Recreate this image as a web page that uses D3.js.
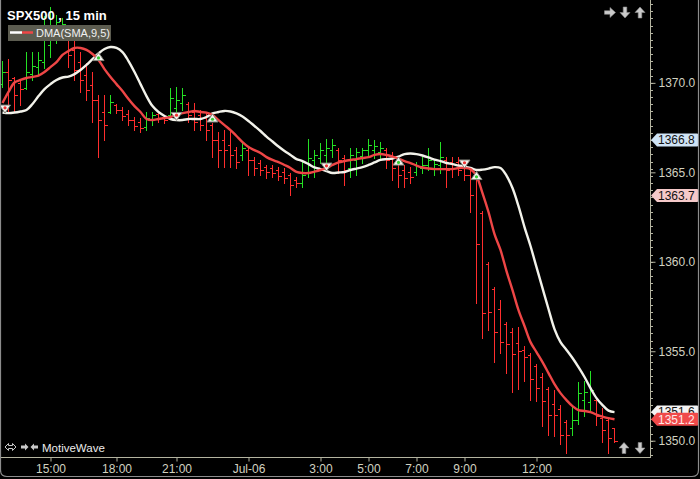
<!DOCTYPE html>
<html><head><meta charset="utf-8">
<script src="https://cdn.jsdelivr.net/npm/d3@7"></script>
<style>html,body{margin:0;padding:0;background:#000;overflow:hidden}svg{display:block}</style>
</head><body><svg id="c" width="700" height="479"></svg>
<script>
// ---------- DATA ----------
const opens = [1369.93,1370.61,1370.27,1369.99,1369.71,1370.49,1370.88,1371.16,1372.11,1372.84,
1372.67,1372.95,1371.83,1371.16,1370.44,1369.88,1369.04,1368.37,1368.37,1368.76,
1368.48,1368.26,1367.92,1367.81,1367.53,1367.92,1368.26,1368.09,1368.20,1368.59,
1368.87,1368.82,1368.37,1368.20,1368.03,1367.64,1366.80,1366.80,1366.52,1366.24,
1365.97,1366.24,1365.69,1365.52,1365.29,1365.24,1365.13,1365.02,1364.85,1364.57,
1364.40,1365.02,1365.69,1365.80,1365.97,1366.24,1366.24,1365.80,1365.24,1365.69,
1365.91,1366.24,1366.24,1366.13,1366.24,1365.80,1365.57,1365.13,1365.02,1365.02,
1365.24,1365.41,1365.24,1365.41,1365.69,1365.57,1365.57,1365.24,1364.85,1364.68,
1362.72,1359.87,1358.47,1357.36,1356.52,1356.07,1355.46,1355.06,1354.79,1354.17,
1353.56,1352.88,1352.05,1351.77,1351.04,1350.70,1351.15,1352.27,1352.16,1352.27,
1351.26,1351.15,1350.70];
const highs = [1371.22,1371.33,1370.33,1370.21,1371.72,1371.72,1371.72,1373.74,1374.24,1373.79,
1373.62,1373.18,1372.51,1371.72,1371.11,1370.61,1369.32,1369.32,1369.32,1368.82,
1368.65,1368.48,1368.09,1368.03,1368.37,1368.37,1368.37,1368.20,1369.71,1369.77,
1369.71,1368.93,1368.87,1368.48,1368.31,1367.75,1367.25,1367.36,1367.36,1366.41,
1366.64,1366.41,1365.85,1365.69,1365.41,1365.41,1365.29,1365.24,1364.96,1364.74,
1365.57,1366.86,1366.24,1366.64,1366.86,1366.86,1366.36,1365.97,1366.36,1366.36,
1366.36,1366.86,1366.80,1366.69,1366.36,1366.13,1365.85,1365.41,1365.29,1365.57,
1365.85,1366.36,1365.69,1366.69,1365.85,1365.85,1365.85,1365.41,1365.13,1364.96,
1362.84,1359.98,1358.59,1357.86,1356.63,1356.29,1356.35,1355.29,1354.90,1354.28,
1353.78,1353.00,1352.83,1351.99,1351.15,1351.88,1353.28,1353.33,1353.89,1352.33,
1351.82,1351.21,1350.70];
const lows = [1369.77,1368.37,1368.37,1368.76,1369.65,1370.16,1370.44,1370.83,1371.44,1372.23,
1372.39,1370.88,1370.16,1369.49,1369.04,1367.81,1365.85,1366.80,1368.31,1368.31,
1367.92,1367.64,1367.36,1367.25,1367.36,1367.64,1367.81,1367.75,1368.03,1368.09,
1368.48,1367.81,1367.36,1367.36,1366.80,1365.85,1365.29,1365.29,1365.29,1365.24,
1365.69,1364.85,1364.85,1364.85,1364.68,1364.74,1364.57,1364.40,1363.73,1364.18,
1364.18,1364.74,1364.74,1365.52,1365.41,1365.85,1364.96,1364.29,1364.74,1364.85,
1365.52,1365.97,1365.80,1365.69,1365.24,1364.57,1364.18,1364.18,1364.40,1364.85,
1364.96,1365.13,1364.85,1364.96,1364.18,1364.74,1364.85,1364.57,1362.78,1357.69,
1355.74,1356.18,1354.39,1354.90,1353.78,1352.72,1352.88,1353.33,1352.27,1352.21,
1350.82,1350.31,1350.26,1349.81,1349.31,1350.31,1350.93,1351.38,1351.66,1350.87,
1349.92,1349.31,1349.92];
const closes = [1370.61,1370.16,1369.32,1369.65,1370.61,1370.94,1371.28,1372.95,1373.23,1373.40,
1373.29,1371.56,1370.72,1370.16,1369.60,1369.04,1367.92,1367.64,1368.93,1368.48,
1368.15,1367.92,1367.59,1367.47,1368.03,1368.20,1368.03,1367.92,1369.15,1369.04,
1369.32,1368.20,1367.81,1367.64,1367.36,1366.80,1366.24,1366.24,1365.97,1365.57,
1366.36,1365.69,1365.24,1365.13,1365.02,1364.96,1364.79,1364.68,1364.29,1364.40,
1364.85,1365.80,1365.97,1366.24,1366.36,1366.52,1365.69,1365.13,1365.97,1366.13,
1366.24,1366.52,1366.47,1366.36,1365.69,1365.24,1364.85,1364.68,1364.74,1365.35,
1365.41,1365.69,1365.46,1365.85,1365.13,1365.24,1365.13,1364.85,1363.73,1360.99,
1357.13,1357.19,1356.07,1355.51,1355.40,1354.84,1355.01,1354.67,1353.44,1352.94,
1352.21,1351.43,1351.43,1350.31,1350.31,1351.15,1352.66,1352.72,1352.83,1351.38,
1350.59,1350.15,1349.98];
// red line of DMA(SMA,9,5)
const smaValues = [1368.87,1369.49,1370.02,1370.16,1370.27,1370.33,1370.41,1370.61,1370.88,1371.16,
1371.56,1371.78,1371.95,1371.95,1371.84,1371.61,1371.28,1370.77,1370.33,1369.93,
1369.54,1369.10,1368.70,1368.37,1367.98,1367.92,1367.98,1368.03,1368.09,1368.20,
1368.31,1368.37,1368.43,1368.37,1368.34,1368.20,1367.92,1367.64,1367.36,1367.03,
1366.69,1366.41,1366.24,1366.08,1365.85,1365.69,1365.57,1365.41,1365.24,1365.02,
1364.96,1364.96,1365.04,1365.13,1365.24,1365.41,1365.55,1365.63,1365.69,1365.74,
1365.80,1365.85,1365.97,1366.02,1365.97,1365.88,1365.77,1365.63,1365.52,1365.38,
1365.27,1365.21,1365.18,1365.18,1365.18,1365.18,1365.24,1365.24,1365.18,1364.79,
1363.84,1362.78,1361.55,1360.66,1359.48,1358.42,1357.30,1356.41,1355.51,1354.95,
1354.39,1353.78,1353.16,1352.66,1352.27,1351.93,1351.71,1351.66,1351.60,1351.46,
1351.35,1351.26,1351.20];
// white line of DMA(SMA,9,5)
const dmaValues = [1368.34,1368.31,1368.34,1368.40,1368.48,1368.82,1369.26,1369.65,1369.93,1370.16,
1370.30,1370.35,1370.49,1370.72,1371.00,1371.33,1371.64,1371.89,1372.00,1371.95,
1371.72,1371.22,1370.61,1369.93,1369.26,1368.70,1368.37,1368.15,1367.98,1367.92,
1367.92,1367.98,1367.98,1367.98,1368.09,1368.29,1368.37,1368.43,1368.40,1368.29,
1368.12,1367.87,1367.59,1367.31,1367.00,1366.72,1366.44,1366.19,1365.97,1365.74,
1365.63,1365.46,1365.27,1365.18,1365.07,1364.96,1364.99,1365.02,1365.13,1365.21,
1365.29,1365.41,1365.55,1365.69,1365.74,1365.77,1365.88,1366.02,1366.05,1366.02,
1365.94,1365.83,1365.71,1365.63,1365.52,1365.46,1365.38,1365.32,1365.24,1365.13,
1365.15,1365.21,1365.29,1365.24,1364.82,1364.12,1363.11,1361.94,1360.88,1359.70,
1358.53,1357.36,1356.24,1355.51,1355.07,1354.62,1354.11,1353.56,1352.94,1352.38,
1351.99,1351.68,1351.60];
const signalBars   = [0, 16, 29, 35, 54, 66, 77, 79];
const signalDirs   = ["down","up","down","up","down","up","down","up"];
const signalPrices = [1368.56,1371.44,1368.15,1368.01,1365.32,1365.60,1365.49,1364.79];
const timeTickBars   = [8, 19, 29, 41, 53, 61, 69, 77, 89];
const timeTickLabels = ["15:00","18:00","21:00","Jul-06","3:00","5:00","7:00","9:00","12:00"];
const priceTicks = [1350, 1355, 1360, 1365, 1370];
const markerValues = [1366.8, 1363.7, 1351.6, 1351.2];
const titleText = "SPX500 , 15 min";
const legendText = "DMA(SMA,9,5)";

// ---------- DRAWING ----------
const svg = d3.select("#c");
const FONT = "'Liberation Sans', Arial, sans-serif";
const x = d3.scaleLinear().domain([0, 102]).range([2.5, 614.5]);
const y = d3.scaleLinear().domain([1350, 1370]).range([440.7, 82.85]);
const snap = v => Math.round(v) + 0.5;

svg.append("rect").attr("width",700).attr("height",479).attr("fill","#000");

const plot = svg.append("g").attr("clip-path","url(#clipP)");
svg.append("clipPath").attr("id","clipP").append("rect").attr("x",1).attr("y",0).attr("width",649).attr("height",457);

// OHLC bars
const bars = plot.append("g").attr("shape-rendering","crispEdges");
d3.range(opens.length).forEach(i => {
  const col = closes[i] >= opens[i] ? "#24e024" : "#ff2d2d";
  const xi = x(i);
  const g = bars.append("g").attr("stroke", col).attr("stroke-width",1);
  g.append("line").attr("x1",xi).attr("x2",xi).attr("y1",Math.round(y(highs[i]))).attr("y2",Math.round(y(lows[i]))+1);
  g.append("line").attr("x1",xi-3).attr("x2",xi).attr("y1",snap(y(opens[i]))).attr("y2",snap(y(opens[i])));
  g.append("line").attr("x1",xi).attr("x2",xi+3.5).attr("y1",snap(y(closes[i]))).attr("y2",snap(y(closes[i])));
});

// moving average lines
const line = d3.line().x((d,i)=>x(i)).y(d=>y(d)).curve(d3.curveCatmullRom.alpha(0.5));
plot.append("path").datum(dmaValues).attr("d",line).attr("fill","none").attr("stroke","#f2f2ea").attr("stroke-width",2.4);
plot.append("path").datum(smaValues).attr("d",line).attr("fill","none").attr("stroke","#ee4646").attr("stroke-width",2.4);

// signal triangles
signalBars.forEach((b,k) => {
  const cx = Math.max(x(b), 5), cy = y(signalPrices[k]);
  const up = signalDirs[k] === "up";
  const p = up ? `M${cx},${cy-4.5}L${cx+5.5},${cy+3.5}L${cx-5.5},${cy+3.5}Z`
               : `M${cx},${cy+4.5}L${cx+5.5},${cy-3.5}L${cx-5.5},${cy-3.5}Z`;
  plot.append("path").attr("d",p).attr("fill","#f4f4f0").attr("stroke","#8a8a80").attr("stroke-width",1);
  plot.append("circle").attr("cx",cx).attr("cy",up?cy+0.8:cy-0.8).attr("r",1.6).attr("fill", up ? "#33cc33" : "#ee3333");
});

// price axis
const axisCol = "#b4b4a0", textCol = "#d2d2c0";
const ay = svg.append("g").attr("shape-rendering","crispEdges");
ay.append("line").attr("x1",650.5).attr("x2",650.5).attr("y1",0).attr("y2",457).attr("stroke",axisCol);
d3.range(1348.8, 1375, 0.4).forEach(v => {
  const yy = snap(y(v));
  if (yy > 0 && yy < 457) ay.append("line").attr("x1",650).attr("x2",653).attr("y1",yy).attr("y2",yy).attr("stroke",axisCol);
});
const yAxis = d3.axisRight(y).tickValues(priceTicks).tickSize(5).tickFormat(d=>d.toFixed(1));
const yg = svg.append("g").attr("transform","translate(650.5,0)").call(yAxis);
yg.select(".domain").remove();
yg.selectAll("line").attr("stroke",axisCol);
yg.selectAll("text").attr("fill",textCol).attr("font-family",FONT).attr("font-size",12).attr("x",8);

// time axis
const ax = svg.append("g").attr("shape-rendering","crispEdges");
ax.append("line").attr("x1",0).attr("x2",650.5).attr("y1",457.5).attr("y2",457.5).attr("stroke",axisCol);
const xAxis = d3.axisBottom(x).tickValues(timeTickBars).tickSize(4).tickFormat((d,i)=>timeTickLabels[i]);
const xg = svg.append("g").attr("transform","translate(0,457.5)").call(xAxis);
xg.select(".domain").remove();
xg.selectAll("line").attr("stroke",axisCol);
xg.selectAll("text").attr("fill",textCol).attr("font-family",FONT).attr("font-size",12).attr("y",7);

// value flags
const flagStyle = [
  {fill:"#cfe3f5", text:"#111"},
  {fill:"#f5c9c9", text:"#111"},
  {fill:"#f4f4f4", text:"#111"},
  {fill:"#f04a4a", text:"#ffe8e8"}
];
markerValues.forEach((v,k) => {
  const cy = y(v), st = flagStyle[k];
  const g = svg.append("g");
  g.append("path").attr("d",`M651,${cy}L657,${cy-6.5}L697,${cy-6.5}Q699,${cy-6.5} 699,${cy-4.5}L699,${cy+4.5}Q699,${cy+6.5} 697,${cy+6.5}L657,${cy+6.5}Z`)
    .attr("fill",st.fill);
  g.append("text").attr("x",658).attr("y",cy+4.3).attr("fill",st.text).attr("font-family",FONT).attr("font-size",12).text(v.toFixed(1));
});

// title + legend
svg.append("text").attr("x",7).attr("y",20).attr("fill","#ffffff").attr("font-family",FONT).attr("font-weight","bold").attr("font-size",13).text(titleText);
svg.append("rect").attr("x",8).attr("y",25).attr("width",103).attr("height",16).attr("fill","#5c5c50");
svg.append("line").attr("x1",10).attr("x2",22).attr("y1",32.5).attr("y2",32.5).attr("stroke","#ffffff").attr("stroke-width",2.5);
svg.append("line").attr("x1",22).attr("x2",33).attr("y1",32.5).attr("y2",32.5).attr("stroke","#ee4646").attr("stroke-width",2.5);
svg.append("text").attr("x",36).attr("y",37).attr("fill","#f0f0f0").attr("font-family",FONT).attr("font-size",11).text(legendText);

// navigation arrows
function arrow(cx, cy, rot) {
  const p = "M-5.5,-1.8L0,-1.8L0,-5L5.5,0L0,5L0,1.8L-5.5,1.8Z";
  svg.append("path").attr("d",p).attr("transform",`translate(${cx},${cy}) rotate(${rot})`)
    .attr("fill","#cacaca").attr("stroke","#8c8c8c").attr("stroke-width",0.6);
}
arrow(610, 12.5, 0); arrow(625, 12.5, 90); arrow(640, 12.5, -90);
arrow(624, 448, -90); arrow(640, 448, 90);
// bottom-left controls
svg.append("path").attr("d","M5,447L8.5,443.5L8.5,445.5L12.5,445.5L12.5,443.5L16,447L12.5,450.5L12.5,448.5L8.5,448.5L8.5,450.5Z")
  .attr("fill","none").attr("stroke","#c8c8c8").attr("stroke-width",1);
svg.append("path").attr("d","M21,445.5L25,445.5L25,443.5L28.5,447L25,450.5L25,448.5L21,448.5Z").attr("fill","#c8c8c8");
svg.append("path").attr("d","M38,445.5L34,445.5L34,443.5L30.5,447L34,450.5L34,448.5L38,448.5Z").attr("fill","#c8c8c8");
svg.append("text").attr("x",42).attr("y",451.5).attr("fill","#ececec").attr("font-family",FONT).attr("font-size",11.5).text("MotiveWave");

// outer frame
svg.append("path").attr("d","M0.5,0L0.5,470Q0.5,476.5 7,476.5L692,476.5Q698.5,476.5 698.5,470L698.5,0")
  .attr("fill","none").attr("stroke","#8c8c8c").attr("stroke-width",1.2);
</script></body></html>
